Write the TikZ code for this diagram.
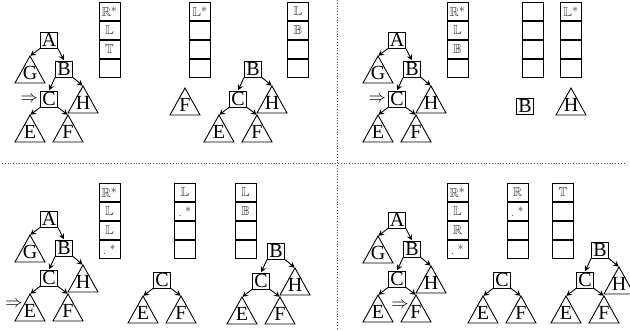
\documentclass[tikz,border=0pt]{standalone}
\usepackage{amsmath,amssymb}
\usepackage{fontspec}
\setmainfont{Liberation Serif}
\usetikzlibrary{arrows.meta,positioning}

\tikzset{
  letterbox/.style={draw, line width=0.9pt, minimum width=17pt, minimum height=16pt, inner sep=0pt, font=\fontsize{20}{20}\selectfont},
  trilabel/.style={inner sep=0pt, font=\fontsize{20}{20}\selectfont},
  tri/.style={draw, line width=0.9pt},
  cell/.style={draw, line width=0.8pt, minimum width=21pt, minimum height=18.2pt, inner sep=0pt, font=\fontsize{13}{13}\selectfont, text=black!80},
  link/.style={-{Stealth[length=5.5pt,width=6pt,inset=2pt]}, line width=0.9pt, shorten >=0.5pt},
  pointer/.style={inner sep=0pt, font=\fontsize{18}{18}\selectfont},
  divider/.style={dotted, line width=0.8pt, black!70}
}

% triangle for a subtree: name, apex x, apex y, letter
\newcommand{\subtri}[4]{%
  \coordinate (#1-top) at (#2,#3);
  \draw[tri] (#1-top) -- ++(-15,27) -- ++(30,0) -- cycle;
  \node[trilabel, anchor=base] (#1) at (#2,#3+23) {#4};}

% C with E and F
\newcommand{\treeC}[3]{%
  \node[letterbox] (#1C) at (#2,#3) {C};
  \subtri{#1E}{#2-19}{#3+16}{E}
  \subtri{#1F}{#2+19}{#3+16}{F}
  \draw[link] (#1C.south west) -- (#1E-top);
  \draw[link] (#1C.south east) -- (#1F-top);}

% B with C and H
\newcommand{\treeB}[3]{%
  \node[letterbox] (#1B) at (#2,#3) {B};
  \subtri{#1H}{#2+19}{#3+17}{H}
  \treeC{#1}{#2-15}{#3+30}
  \draw[link] (#1B.south west) -- (#1C.north);
  \draw[link] (#1B.south east) -- (#1H-top);}

% A with G and B
\newcommand{\treeA}[3]{%
  \node[letterbox] (#1A) at (#2,#3) {A};
  \subtri{#1G}{#2-19}{#3+16}{G}
  \treeB{#1}{#2+15}{#3+29}
  \draw[link] (#1A.south west) -- (#1G-top);
  \draw[link] (#1A.south east) -- (#1B.north);}

% stack of four cells: name, x, y of top cell, entries
\newcommand{\cellstack}[7]{%
  \node[cell] (#1-1) at (#2,#3) {#4};
  \node[cell, below=0pt of #1-1] (#1-2) {#5};
  \node[cell, below=0pt of #1-2] (#1-3) {#6};
  \node[cell, below=0pt of #1-3] (#1-4) {#7};}
\newcommand{\st}{^{\textstyle*}}

\begin{document}
\begin{tikzpicture}[x=1pt, y=-1pt]
\useasboundingbox (0,0) rectangle (630,330);

% Dividers
\draw[divider] (2,163) -- (626,163);
\draw[divider] (337,0) -- (337,330);

% Top left
\treeA{p}{49}{40}
\node[pointer, left=2pt of pC] (pptr) {$\Rightarrow$};
\cellstack{ps}{109.5}{11.5}{$\mathbb{R}\st$}{$\mathbb{L}$}{$\mathbb{T}$}{}

% Top middle
\cellstack{qs}{200}{11.5}{$\mathbb{L}\st$}{}{}{}
\cellstack{qt}{298}{11.5}{$\mathbb{L}$}{$\mathbb{B}$}{}{}
\subtri{qF}{185}{88}{F}
\treeB{q}{253}{69}

% Top right
\treeA{r}{397}{40}
\node[pointer, left=2pt of rC] (rptr) {$\Rightarrow$};
\cellstack{rs}{457.5}{11.5}{$\mathbb{R}\st$}{$\mathbb{L}$}{$\mathbb{B}$}{}
\cellstack{ss}{532.5}{11.5}{}{}{}{}
\cellstack{sl}{571}{11.5}{$\mathbb{L}\st$}{}{}{}
\node[letterbox] (sB) at (525,106) {B};
\subtri{sH}{571}{88}{H}

% Bottom left
\treeA{u}{49}{219}
\node[pointer] (uptr) at (14,304) {$\Rightarrow$};
\cellstack{us}{109.5}{192.5}{$\mathbb{R}\st$}{$\mathbb{L}$}{$\mathbb{L}$}{$.\;\st$}

% Bottom middle
\cellstack{vs}{185}{192.5}{$\mathbb{L}$}{$.\;\st$}{}{}
\cellstack{vt}{245.5}{192.5}{$\mathbb{L}$}{$\mathbb{B}$}{}{}
\treeC{v}{162}{280}
\treeB{w}{276}{251}

% Bottom right
\treeA{x}{397}{220}
\node[pointer] (xptr) at (400,305) {$\Rightarrow$};
\cellstack{xs}{457.5}{192.5}{$\mathbb{R}\st$}{$\mathbb{L}$}{$\mathbb{R}$}{$.\;\st$}
\cellstack{ys}{517.5}{192.5}{$\mathbb{R}$}{$.\;\st$}{}{}
\cellstack{yt}{563}{192.5}{$\mathbb{T}$}{}{}{}
\treeC{y}{502}{280}
\treeB{z}{600}{250}
\end{tikzpicture}
\end{document}
